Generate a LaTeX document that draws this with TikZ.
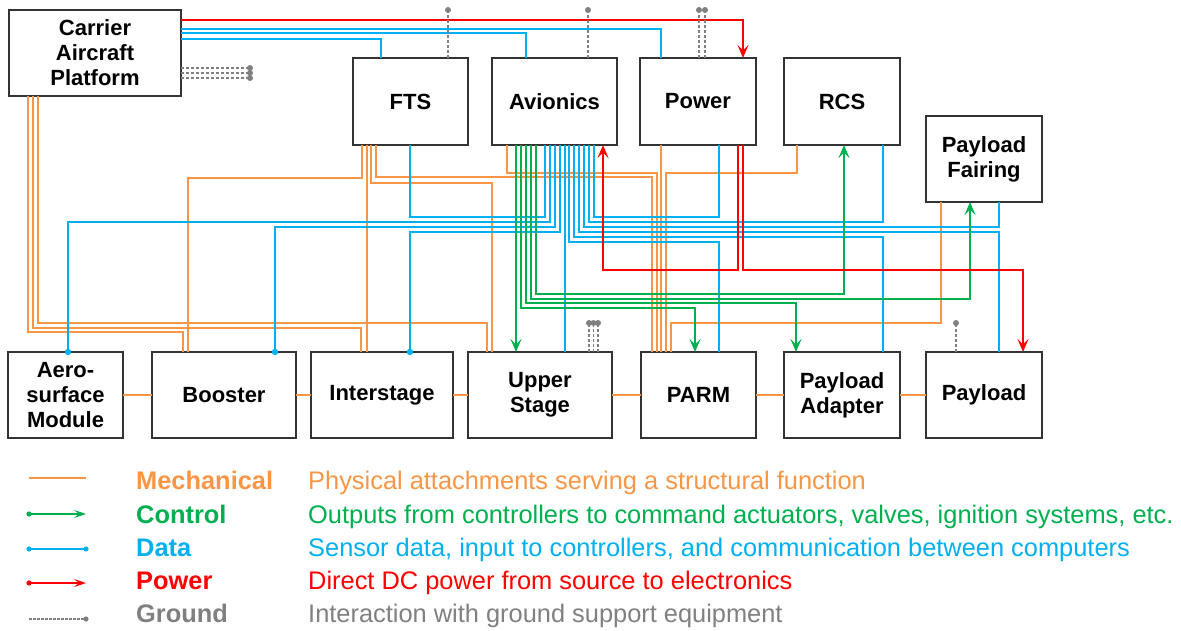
\documentclass[tikz,border=0pt]{standalone}
\usepackage{fontspec}
\setmainfont{Liberation Sans}
\usetikzlibrary{arrows.meta}
\definecolor{mechc}{HTML}{F79646}
\definecolor{ctrlc}{HTML}{00B050}
\definecolor{datac}{HTML}{00B0F0}
\definecolor{powc}{HTML}{FF0000}
\definecolor{gndc}{HTML}{808080}
\definecolor{boxc}{HTML}{333333}
\begin{document}
\begin{tikzpicture}[x=1pt,y=-1pt,
 box/.style={draw=boxc,line width=1.6pt,fill=white,minimum width=#1,minimum height=87pt,inner sep=0pt,outer sep=0pt,align=center,font=\fontsize{22}{25}\selectfont\bfseries},
 conn/.style={line width=1.9pt},
 mech/.style={conn,draw=mechc},
 ctrl/.style={conn,draw=ctrlc,-{Stealth[length=13pt,width=11pt,inset=5.5pt]}},
 data/.style={conn,draw=datac},
 pow/.style={conn,draw=powc,-{Stealth[length=13pt,width=11pt,inset=5.5pt]}},
 gnd/.style={draw=gndc,line width=1.5pt,dash pattern=on 3pt off 2pt},
 leglab/.style={anchor=base west,inner sep=0pt,font=\fontsize{25.4}{30}\selectfont\bfseries},
 legtxt/.style={anchor=base west,inner sep=0pt,font=\fontsize{25.4}{30}\selectfont},
]
\useasboundingbox[fill=white] (0,0) rectangle (1181,631);

% boxes
\node[box=172,minimum height=86pt] (carrier) at (95,53) {Carrier\\Aircraft\\Platform};
\node[box=115] (fts) at (410.5,101.5) {FTS};
\node[box=125] (avionics) at (554.5,101.5) {Avionics};
\node[box=116] (power) at (698,101.5) {Power};
\node[box=116] (rcs) at (842,101.5) {RCS};
\node[box=116,minimum height=86pt] (fairing) at (984,159) {Payload\\Fairing};
\node[box=115,minimum height=86pt] (aero) at (65.5,395) {Aero-\\surface\\Module};
\node[box=144,minimum height=86pt] (booster) at (224,395) {Booster};
\node[box=142,minimum height=86pt] (interstage) at (382,395) {Interstage};
\node[box=144,minimum height=86pt] (upper) at (540,395) {Upper\\Stage};
\node[box=115,minimum height=86pt] (parm) at (698.5,395) {PARM};
\node[box=116,minimum height=86pt] (adapter) at (842,395) {Payload\\Adapter};
\node[box=116,minimum height=86pt] (payload) at (984,395) {Payload};

% mechanical
\draw[mech] (carrier.south -| 28,0) |- (183,332) -- (booster.north -| 183,0);
\draw[mech] (carrier.south -| 33,0) |- (361,328) -- (interstage.north -| 361,0);
\draw[mech] (carrier.south -| 38,0) |- (487,323) -- (upper.north -| 487,0);
\draw[mech] (fts.south -| 362,0) |- (188,178) -- (booster.north -| 188,0);
\draw[mech] (fts.south -| 367,0) -- (interstage.north -| 367,0);
\draw[mech] (fts.south -| 371,0) |- (492,183) -- (upper.north -| 492,0);
\draw[mech] (fts.south -| 376,0) |- (652,177) -- (parm.north -| 652,0);
\draw[mech] (avionics.south -| 507,0) |- (657,173) -- (parm.north -| 657,0);
\draw[mech] (power.south -| 661,0) -- (parm.north -| 661,0);
\draw[mech] (rcs.south -| 797,0) |- (666,173) -- (parm.north -| 666,0);
\draw[mech] (fairing.south -| 941,0) |- (671,323) -- (parm.north -| 671,0);
\draw[mech] (aero.east) -- (booster.west);
\draw[mech] (booster.east) -- (interstage.west);
\draw[mech] (interstage.east) -- (upper.west);
\draw[mech] (upper.east) -- (parm.west);
\draw[mech] (parm.east) -- (adapter.west);
\draw[mech] (adapter.east) -- (payload.west);

% data
\draw[data] (carrier.east |- 0,39) -| (fts.north -| 381,0);
\draw[data] (carrier.east |- 0,33) -| (avionics.north -| 526,0);
\draw[data] (carrier.east |- 0,29) -| (power.north -| 661,0);
\draw[data] (fts.south -| 410,0) |- (545,217) -- (avionics.south -| 545,0);
\draw[data] (aero.north -| 68,0) |- (550,222) -- (avionics.south -| 550,0);
\draw[data] (booster.north -| 275,0) |- (555,227) -- (avionics.south -| 555,0);
\draw[data] (interstage.north -| 410,0) |- (560,232) -- (avionics.south -| 560,0);
\fill[datac] (aero.north -| 68,0) circle (3.2pt);
\fill[datac] (booster.north -| 275,0) circle (3.2pt);
\fill[datac] (interstage.north -| 410,0) circle (3.2pt);
\draw[data] (avionics.south -| 565,0) -- (upper.north -| 565,0);
\draw[data] (avionics.south -| 569,0) |- (719,242) -- (parm.north -| 719,0);
\draw[data] (avionics.south -| 574,0) |- (883,237) -- (adapter.north -| 883,0);
\draw[data] (avionics.south -| 579,0) |- (999,232) -- (payload.north -| 999,0);
\draw[data] (avionics.south -| 584,0) |- (999,227) -- (fairing.south -| 999,0);
\draw[data] (avionics.south -| 589,0) |- (883,222) -- (rcs.south -| 883,0);
\draw[data] (avionics.south -| 594,0) |- (719,217) -- (power.south -| 719,0);

% control
\draw[ctrl] (avionics.south -| 516,0) -- (upper.north -| 516,0);
\draw[ctrl] (avionics.south -| 521,0) |- (695,308) -- (parm.north -| 695,0);
\draw[ctrl] (avionics.south -| 526,0) |- (796,303) -- (adapter.north -| 796,0);
\draw[ctrl] (avionics.south -| 531,0) |- (970,299) -- (fairing.south -| 970,0);
\draw[ctrl] (avionics.south -| 536,0) |- (844,294) -- (rcs.south -| 844,0);

% power
\draw[pow] (carrier.east |- 0,20) -| (power.north -| 743,0);
\draw[pow] (power.south -| 738,0) |- (603,270) -- (avionics.south -| 603,0);
\draw[pow] (power.south -| 743,0) |- (1023,270) -- (payload.north -| 1023,0);

% ground
\coordinate (gc1) at (250,68);
\coordinate (gc2) at (250,73);
\coordinate (gc3) at (250,78);
\coordinate (gf) at (448,10);
\coordinate (ga) at (588,10);
\coordinate (gp1) at (699,10);
\coordinate (gp2) at (705,10);
\coordinate (gu1) at (589,323);
\coordinate (gu2) at (593.5,323);
\coordinate (gu3) at (598,323);
\coordinate (gpl) at (956,323);
\foreach \c in {gc1,gc2,gc3}{\draw[gnd] (carrier.east |- \c) -- (\c);}
\draw[gnd] (fts.north -| gf) -- (gf);
\draw[gnd] (avionics.north -| ga) -- (ga);
\draw[gnd] (power.north -| gp1) -- (gp1);
\draw[gnd] (power.north -| gp2) -- (gp2);
\foreach \c in {gu1,gu2,gu3}{\draw[gnd] (upper.north -| \c) -- (\c);}
\draw[gnd] (payload.north -| gpl) -- (gpl);
\foreach \c in {gc1,gc2,gc3,gf,ga,gp1,gp2,gu1,gu2,gu3,gpl}{\fill[gndc] (\c) circle (3pt);}

% legend
\coordinate (lm1) at (29,478); \coordinate (lm2) at (86,478);
\coordinate (lc1) at (29,514); \coordinate (lc2) at (86,514);
\coordinate (ld1) at (29,549); \coordinate (ld2) at (86,549);
\coordinate (lp1) at (29,583); \coordinate (lp2) at (86,583);
\coordinate (lg1) at (29,619); \coordinate (lg2) at (86,619);
\draw[mechc,line width=1.6pt] (lm1) -- (lm2);
\draw[ctrlc,line width=1.6pt,-{Stealth[length=12pt,width=8pt,inset=5pt]}] (lc1) -- (lc2);
\fill[ctrlc] (lc1) circle (2.6pt);
\draw[datac,line width=1.6pt] (ld1) -- (ld2);
\fill[datac] (ld1) circle (2.6pt); \fill[datac] (ld2) circle (2.6pt);
\draw[powc,line width=1.6pt,-{Stealth[length=12pt,width=8pt,inset=5pt]}] (lp1) -- (lp2);
\fill[powc] (lp1) circle (2.6pt);
\draw[gndc,line width=1.3pt,dash pattern=on 2.5pt off 1.5pt] (lg1) -- (lg2);
\fill[gndc] (lg2) circle (2.6pt);

\node[leglab,text=mechc] (km) at (136,489) {Mechanical};
\node[leglab,text=ctrlc] (kc) at (136,523) {Control};
\node[leglab,text=datac] (kd) at (136,556) {Data};
\node[leglab,text=powc] (kp) at (136,589) {Power};
\node[leglab,text=gndc] (kg) at (136,622) {Ground};
\node[legtxt,text=mechc] (tm) at (308,489) {Physical attachments serving a structural function};
\node[legtxt,text=ctrlc] (tc) at (308,523) {Outputs from controllers to command actuators, valves, ignition systems, etc.};
\node[legtxt,text=datac] (td) at (308,556) {Sensor data, input to controllers, and communication between computers};
\node[legtxt,text=powc] (tp) at (308,589) {Direct DC power from source to electronics};
\node[legtxt,text=gndc] (tg) at (308,622) {Interaction with ground support equipment};
\end{tikzpicture}
\end{document}
